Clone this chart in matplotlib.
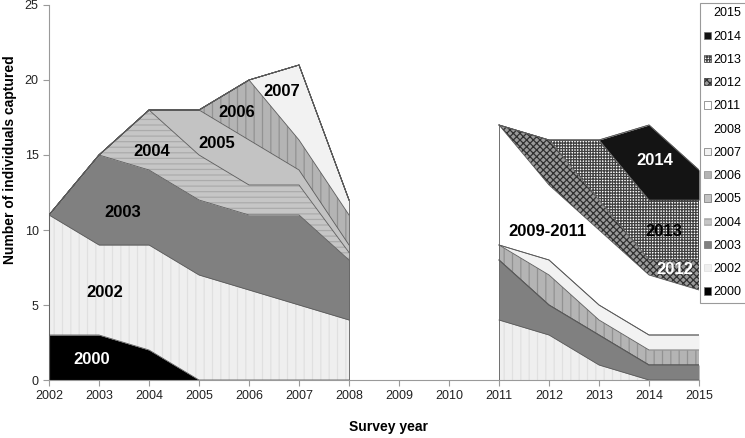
import numpy as np
import matplotlib
matplotlib.use("Agg")
import matplotlib.pyplot as plt
from matplotlib.patches import Patch

plt.rcParams['font.family'] = ['Liberation Sans', 'DejaVu Sans']
plt.rcParams['hatch.linewidth'] = 0.9

# cohorts, stacked bottom -> top
cohorts = ["2000", "2002", "2003", "2004", "2005", "2006", "2007",
           "2008", "2011", "2012", "2013", "2014", "2015"]

years_early = [2002, 2003, 2004, 2005, 2006, 2007, 2008]
years_late = [2011, 2012, 2013, 2014, 2015]

# individuals captured per cohort, first survey period
early_counts = [
    [3, 3, 2, 0, 0, 0, 0],        # 2000
    [8, 6, 7, 7, 6, 5, 4],        # 2002
    [0, 6, 5, 5, 5, 6, 4],        # 2003
    [0, 0, 4, 3, 2, 2, 0.5],      # 2004
    [0, 0, 0, 3, 3, 1, 0.5],      # 2005
    [0, 0, 0, 0, 4, 2, 2],        # 2006
    [0, 0, 0, 0, 0, 5, 1],        # 2007
    [0, 0, 0, 0, 0, 0, 0],        # 2008
    [0, 0, 0, 0, 0, 0, 0],        # 2011
    [0, 0, 0, 0, 0, 0, 0],        # 2012
    [0, 0, 0, 0, 0, 0, 0],        # 2013
    [0, 0, 0, 0, 0, 0, 0],        # 2014
    [0, 0, 0, 0, 0, 0, 0],        # 2015
]

# second survey period
late_counts = [
    [0, 0, 0, 0, 0],   # 2000
    [4, 3, 1, 0, 0],   # 2002
    [4, 2, 2, 1, 1],   # 2003
    [0, 0, 0, 0, 0],   # 2004
    [0, 0, 0, 0, 0],   # 2005
    [1, 2, 1, 1, 1],   # 2006
    [0, 1, 1, 1, 1],   # 2007
    [0, 0, 0, 0, 0],   # 2008
    [8, 5, 5, 4, 3],   # 2011 (2009-2011)
    [0, 3, 2, 1, 2],   # 2012
    [0, 0, 4, 4, 4],   # 2013
    [0, 0, 0, 5, 2],   # 2014
    [0, 0, 0, 0, 0],   # 2015
]

band_labels = ["2000", "2002", "2003", "2004", "2005", "2006", "2007",
               "2009-2011", "2012", "2013", "2014"]
label_x = [2002.85, 2003.12, 2003.48, 2004.05, 2005.36, 2005.76, 2006.66,
           2011.96, 2014.52, 2014.3, 2014.12]
label_y = [1.35, 5.85, 11.2, 15.25, 15.75, 17.8, 19.2, 9.9, 7.35, 9.9, 14.6]
label_col = ["white", "black", "black", "black", "black", "black", "black",
             "black", "white", "black", "white"]

# fill, hatch, hatch colour per cohort
styles = {
    "2000": ("#000000", None, "#000000"),
    "2002": ("#efefef", "||", "#e0e0e0"),
    "2003": ("#808080", None, "#808080"),
    "2004": ("#c6c6c6", "---", "#ababab"),
    "2005": ("#c3c3c3", None, "#c3c3c3"),
    "2006": ("#b4b4b4", "||", "#929292"),
    "2007": ("#f2f2f2", None, "#f2f2f2"),
    "2008": ("none", None, "none"),
    "2011": ("#ffffff", None, "#ffffff"),
    "2012": ("#9a9a9a", "xxxxx", "#303030"),
    "2013": ("#ffffff", "++++++", "#404040"),
    "2014": ("#141414", None, "#141414"),
    "2015": ("none", None, "none"),
}

fig = plt.figure(figsize=(7.45, 4.38), dpi=100)
ax = fig.add_axes([0.0658, 0.1324, 0.8725, 0.8562])

outline = "#5a5a5a"
for years, counts in [(years_early, early_counts), (years_late, late_counts)]:
    x = np.array(years)
    tops = np.cumsum(np.array(counts, dtype=float), axis=0)
    bottom = np.zeros(len(x))
    for name, top in zip(cohorts, tops):
        fc, hatch, hc = styles[name]
        if fc != "none":
            ax.fill_between(x, bottom, top, facecolor=fc, edgecolor=hc,
                            hatch=hatch, linewidth=0, zorder=2)
        ax.plot(x, top, color=outline, lw=0.6, zorder=3)
        bottom = top
    ax.vlines([x[0], x[-1]], 0, [tops[-1][0], tops[-1][-1]],
              color=outline, lw=0.6, zorder=3)

for txt, lx, ly, c in zip(band_labels, label_x, label_y, label_col):
    ax.text(lx, ly, txt, ha="center", va="center", fontsize=12,
            fontweight="bold", color=c, zorder=5)

ax.set_xlim(2002, 2015)
ax.set_ylim(0, 25)
ax.set_xticks(range(2002, 2016))
ax.set_yticks(range(0, 26, 5))
for s in ["top", "right"]:
    ax.spines[s].set_visible(False)
for s in ["left", "bottom"]:
    ax.spines[s].set_color("#9a9a9a")
    ax.spines[s].set_linewidth(0.8)
ax.tick_params(axis="both", colors="#9a9a9a", labelcolor="#222222",
               labelsize=9, length=4, width=0.8, direction="out")

fig.text(0.521, 0.025, "Survey year", ha="center", va="center",
         fontsize=10, fontweight="bold")
fig.text(0.014, 0.635, "Number of individuals captured", ha="center",
         va="center", rotation=90, fontsize=10, fontweight="bold")

handles = []
for name in reversed(cohorts):
    fc, hatch, hc = styles[name]
    if fc == "none":
        handles.append(Patch(facecolor="none", edgecolor="none", label=name))
    else:
        handles.append(Patch(facecolor=fc, edgecolor="#707070" if hatch is None else hc,
                             hatch=hatch, lw=0.5, label=name))
leg = fig.legend(handles=handles, loc="upper left",
                 bbox_to_anchor=(700 / 745, 1 - 3 / 438), fontsize=9,
                 handlelength=0.5, handleheight=0.5, handletextpad=0.25,
                 labelspacing=0.9, borderpad=0.35, borderaxespad=0,
                 fancybox=False, edgecolor="#9a9a9a", framealpha=1)
leg.get_frame().set_linewidth(0.8)

fig.savefig("out.png", dpi=100)
